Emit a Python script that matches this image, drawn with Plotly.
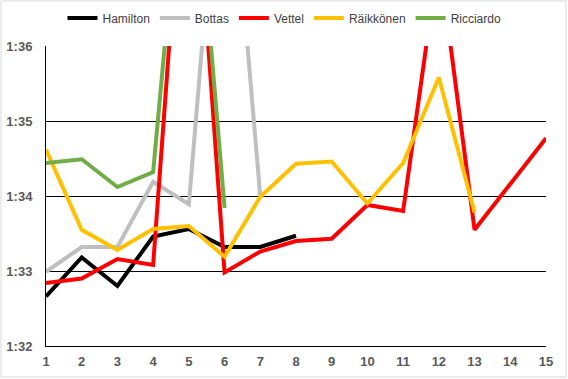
import plotly.graph_objects as go

laps = list(range(1, 16))
tick_vals = [92, 93, 94, 95, 96]
tick_text = ["1:32", "1:33", "1:34", "1:35", "1:36"]

# lap times in seconds
hamilton = [92.66, 93.18, 92.80, 93.46, 93.56, 93.32, 93.32, 93.47]
bottas = [92.99, 93.32, 93.32, 94.19, 93.89, 99.6, 93.99]
vettel = [92.84, 92.90, 93.16, 93.08, 99.6, 92.98, 93.26, 93.40, 93.43, 93.88, 93.80, 97.2, 93.55, 94.15, 94.77]
raikkonen = [94.62, 93.55, 93.28, 93.56, 93.60, 93.19, 93.99, 94.43, 94.46, 93.90, 94.44, 95.58, 93.78]
ricciardo = [94.44, 94.49, 94.12, 94.32, 99.5, 93.84]

series = [
    ("Hamilton", hamilton, "#000000"),
    ("Bottas", bottas, "#BFBFBF"),
    ("Vettel", vettel, "#FF0000"),
    ("Räikkönen", raikkonen, "#FFC000"),
    ("Ricciardo", ricciardo, "#70AD47"),
]

fig = go.Figure()
for name, vals, color in series:
    fig.add_trace(go.Scatter(
        x=laps[:len(vals)], y=vals, name=name, mode="lines",
        line=dict(color=color, width=4),
    ))

W, H = 568, 379
ml, mr, mt, mb = 46, 22, 46, 33
pw, ph = W - ml - mr, H - mt - mb

fig.update_layout(
    width=W, height=H,
    margin=dict(l=ml, r=mr, t=mt, b=mb, pad=0, autoexpand=False),
    paper_bgcolor="white", plot_bgcolor="white",
    showlegend=True,
    legend=dict(
        orientation="h", x=(284.5 - ml) / pw, xanchor="center",
        y=(H - mb - 18) / ph, yanchor="middle",
        font=dict(family="Liberation Sans, Arial", size=12, color="#404040"),
        itemwidth=30, tracegroupgap=0, bgcolor="rgba(0,0,0,0)",
    ),
    xaxis=dict(
        range=[1, 15], tickmode="array", tickvals=laps, ticktext=[str(v) for v in laps],
        showgrid=False, zeroline=False, showline=True, linecolor="#000000", linewidth=1,
        ticks="", ticklabelstandoff=3,
        tickfont=dict(family="Liberation Sans, Arial", size=13, color="#595959", weight="bold"),
    ),
    yaxis=dict(
        range=[92, 96], tickmode="array", tickvals=tick_vals, ticktext=tick_text,
        showgrid=True, gridcolor="#000000", gridwidth=1, zeroline=False,
        showline=True, linecolor="#000000", linewidth=1,
        ticks="", ticklabelstandoff=10,
        tickfont=dict(family="Liberation Sans, Arial", size=13, color="#595959", weight="bold"),
    ),
    shapes=[dict(
        type="rect", xref="paper", yref="paper",
        x0=(1 - ml) / pw, x1=(566 - ml) / pw,
        y0=(H - mb - 377) / ph, y1=(H - mb - 1) / ph,
        line=dict(color="#D9D9D9", width=1), fillcolor="rgba(0,0,0,0)", layer="below",
    )],
)

fig.write_html(
    "out.html",
    config={"displayModeBar": False},
    post_script="document.body.style.margin='0';document.body.style.overflow='hidden';",
)
